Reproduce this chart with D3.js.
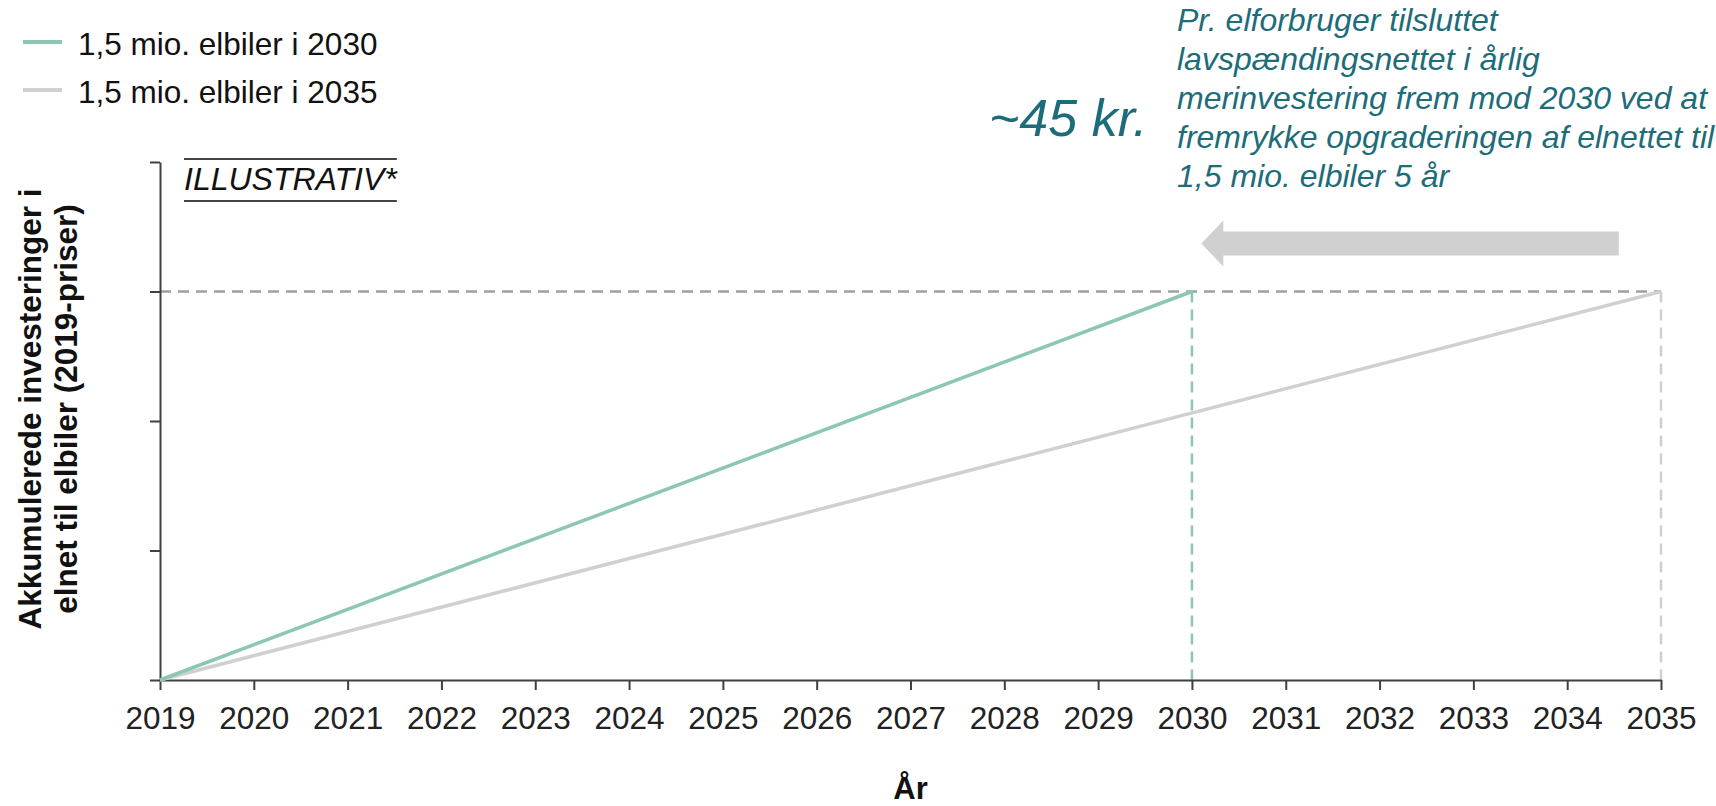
<!DOCTYPE html>
<html>
<head>
<meta charset="utf-8">
<script src="https://cdn.jsdelivr.net/npm/d3@7"></script>
<style>
  body { margin: 0; background: #fff; }
  text { font-family: "Liberation Sans", Arial, sans-serif; }
</style>
</head>
<body>
<div id="chart"></div>
<script>
// Data (values are illustrative, no y labels)
const years = d3.range(2019, 2036);
const yTicks = [0, 1, 2, 3, 4];
const series = [
    { name: "1,5 mio. elbiler i 2030", years: [2019, 2030], values: [0, 3] },
    { name: "1,5 mio. elbiler i 2035", years: [2019, 2035], values: [0, 3] }
];
const targetLevel = 3;
const arrowYears = [2034.55, 2030.1];
const arrowLevel = 3.37;
const noteBig = "~45 kr.";
const noteLines = [
    "Pr. elforbruger tilsluttet",
    "lavspændingsnettet i årlig",
    "merinvestering frem mod 2030 ved at",
    "fremrykke opgraderingen af elnettet til",
    "1,5 mio. elbiler 5 år"
];
const yTitle = ["Akkumulerede investeringer i", "elnet til elbiler (2019-priser)"];
const xTitle = "År";

let width = 1716,
    height = 806;

let margin = { top: 162, bottom: 126, left: 160, right: 55 };

const colors = ["#8cc6b5", "#d0d0d0"];
const teal = "#1d6c79";
const axisColor = "#404040";

let svg = d3.select('#chart')
    .append('svg')
    .attr('width', width)
    .attr('height', height);

let xScale = d3.scaleLinear()
    .domain([2019, 2035])
    .range([margin.left, width - margin.right]);

let yScale = d3.scaleLinear()
    .domain([0, 4])
    .range([height - margin.bottom, margin.top]);

// reference lines at the target level
svg.append('line')
    .attr('x1', xScale(2019))
    .attr('x2', xScale(2035))
    .attr('y1', yScale(targetLevel))
    .attr('y2', yScale(targetLevel))
    .attr('stroke', '#a0a0a0')
    .attr('stroke-width', 2.5)
    .attr('stroke-dasharray', '11,7');

series.forEach((s, i) => {
    const endYear = s.years[s.years.length - 1];
    svg.append('line')
        .attr('x1', xScale(endYear))
        .attr('x2', xScale(endYear))
        .attr('y1', yScale(targetLevel))
        .attr('y2', yScale(0))
        .attr('stroke', colors[i])
        .attr('stroke-width', 2.5)
        .attr('stroke-dasharray', '11,7');
});

// Axes
let xAxis = svg.append('g')
    .attr('transform', `translate(0,${yScale(0)})`)
    .call(d3.axisBottom(xScale)
        .tickValues(years)
        .tickFormat(d3.format('d'))
        .tickSize(10)
        .tickSizeOuter(0)
        .tickPadding(17));

let yAxis = svg.append('g')
    .attr('transform', `translate(${xScale(2019)},0)`)
    .call(d3.axisLeft(yScale)
        .tickValues(yTicks)
        .tickFormat('')
        .tickSize(10)
        .tickSizeOuter(0));

[xAxis, yAxis].forEach(ax => {
    ax.select('.domain').attr('stroke', axisColor).attr('stroke-width', 2);
    ax.selectAll('.tick line').attr('stroke', axisColor).attr('stroke-width', 2);
});
xAxis.selectAll('.tick text')
    .attr('fill', '#222')
    .style('font-size', '31.5px');

// Series lines
const line = d3.line()
    .x(d => xScale(d[0]))
    .y(d => yScale(d[1]));

series.slice().reverse().forEach((s, j) => {
    const i = series.length - 1 - j;
    svg.append('path')
        .datum(d3.zip(s.years, s.values))
        .attr('d', line)
        .attr('fill', 'none')
        .attr('stroke', colors[i])
        .attr('stroke-width', 3.5);
});

// Arrow (moving the upgrade 5 years forward)
const ay = yScale(arrowLevel);
const ax0 = xScale(arrowYears[0]), ax1 = xScale(arrowYears[1]);
svg.append('path')
    .attr('d', `M${ax0},${ay - 12} L${ax1 + 22},${ay - 12} L${ax1 + 22},${ay - 23} L${ax1},${ay} ` +
        `L${ax1 + 22},${ay + 23} L${ax1 + 22},${ay + 12} L${ax0},${ay + 12} Z`)
    .attr('fill', '#d0d0d0');

// Legend
const legend = svg.selectAll(".legend")
    .data(series)
    .enter().append("g")
    .attr("class", "legend")
    .attr("transform", (d, i) => `translate(0,${42 + i * 48})`);

legend.append("line")
    .attr("x1", 23)
    .attr("x2", 62)
    .attr("stroke", (d, i) => colors[i])
    .attr("stroke-width", 4);

legend.append("text")
    .attr("x", 78)
    .attr("y", 12.5)
    .text(d => d.name)
    .attr('fill', '#111')
    .style("font-size", "31.5px");

// ILLUSTRATIV* stamp
const stamp = svg.append('text')
    .attr('x', 184)
    .attr('y', 190)
    .text('ILLUSTRATIV*')
    .style('font-size', '32px')
    .style('font-style', 'italic')
    .attr('fill', '#111');
const sw = stamp.node().getComputedTextLength();
[159, 201].forEach(y => {
    svg.append('line')
        .attr('x1', 184).attr('x2', 184 + sw)
        .attr('y1', y).attr('y2', y)
        .attr('stroke', '#444').attr('stroke-width', 2);
});

// Annotation
svg.append('text')
    .attr('x', 989)
    .attr('y', 136)
    .text(noteBig)
    .attr('fill', teal)
    .style('font-size', '52px')
    .style('font-style', 'italic');

svg.append('text')
    .attr('fill', teal)
    .style('font-size', '32px')
    .style('font-style', 'italic')
    .selectAll('tspan')
    .data(noteLines)
    .enter().append('tspan')
    .attr('x', 1177)
    .attr('y', (d, i) => 31 + i * 39)
    .text(d => d);

// Axis titles
svg.append('text')
    .attr('x', xScale(2027))
    .attr('y', 799)
    .text(xTitle)
    .style('text-anchor', 'middle')
    .style('font-weight', 'bold')
    .style('font-size', '31px')
    .attr('fill', '#111');

svg.append('text')
    .attr('transform', 'translate(0,409) rotate(-90)')
    .style('text-anchor', 'middle')
    .style('font-weight', 'bold')
    .style('font-size', '31.5px')
    .attr('fill', '#111')
    .selectAll('tspan')
    .data(yTitle)
    .enter().append('tspan')
    .attr('x', 0)
    .attr('y', (d, i) => 41 + i * 36)
    .text(d => d);
</script>
</body>
</html>
